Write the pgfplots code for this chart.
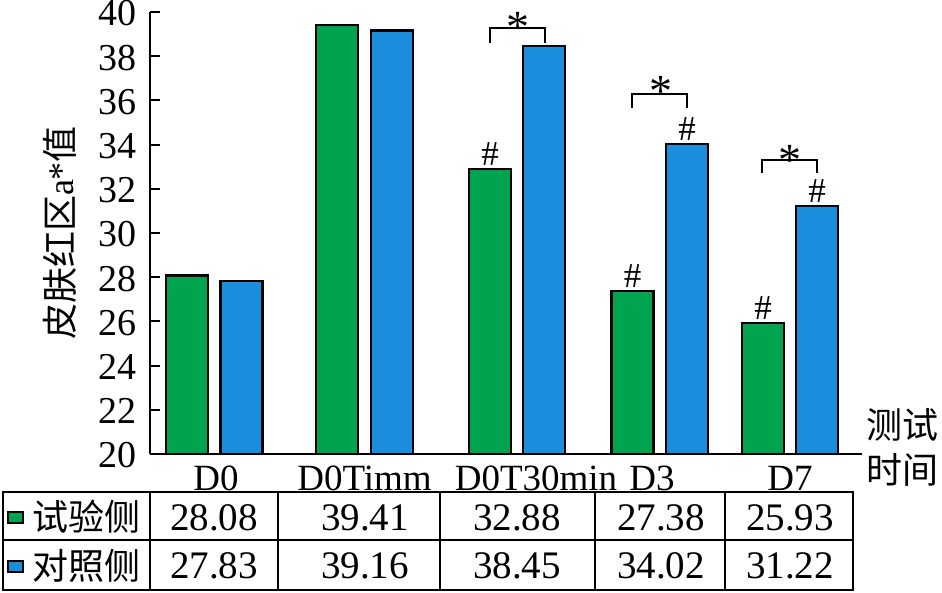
\documentclass[border=0pt]{standalone}
\usepackage{fontspec}
\setmainfont{Liberation Serif}
\newfontfamily\cjk{Noto Sans CJK SC}
\usepackage{pgfplots}
\pgfplotsset{compat=1.18}
\definecolor{cgreen}{RGB}{0,163,78}
\definecolor{cblue}{RGB}{27,141,221}

\begin{document}
\begin{tikzpicture}[x=1pt,y=1pt]
\useasboundingbox (0,0) rectangle (942,592);
\begin{axis}[
  at={(150pt,138pt)}, anchor=south west,
  x=1pt, y=22.1pt,
  xmin=150, xmax=862, ymin=20, ymax=40,
  axis x line*=bottom, axis y line*=left,
  axis line style={line width=2pt},
  ytick={20,22,...,40},
  tick align=inside,
  major tick length=10pt,
  y tick style={line width=2pt,black},
  xtick={216,364.5,536,652,790},
  xticklabels={D0,D0Timm,D0T30min,D3,D7},
  x tick style={draw=none},
  yticklabel style={font=\fontsize{38}{40}\selectfont, inner ysep=0pt, xshift=-10pt, yshift=-1.5pt},
  xticklabel style={font=\fontsize{37}{40}\selectfont, anchor=base, yshift=-26pt},
  /pgf/number format/assume math mode=true,
  ybar, bar width=42,
  clip mode=individual,
]
\addplot[ybar, bar shift=0pt, fill=cgreen, draw=black, line width=2.2pt]
  coordinates {(187,28.08) (337,39.41) (490,32.88) (632.5,27.38) (763,25.93)};
\addplot[ybar, bar shift=0pt, fill=cblue, draw=black, line width=2.2pt]
  coordinates {(241.5,27.83) (392,39.16) (544,38.45) (687,34.02) (817,31.22)};

% significance marks
\begin{scope}[every node/.style={font=\fontsize{35}{38}\selectfont, inner sep=0pt}]
\node[yshift=15pt] at (axis cs:490,32.88) {\#};
\node[yshift=15pt] at (axis cs:632.5,27.38) {\#};
\node[yshift=15pt] at (axis cs:763,25.93) {\#};
\node[yshift=15pt] at (axis cs:687,34.02) {\#};
\node[yshift=15pt] at (axis cs:817,31.22) {\#};
\end{scope}
\draw[line width=2.5pt] (axis cs:490,38.6) -- (axis cs:490,39.28) -- (axis cs:545,39.28) -- (axis cs:545,38.6);
\draw[line width=2.5pt] (axis cs:632,35.66) -- (axis cs:632,36.29) -- (axis cs:687,36.29) -- (axis cs:687,35.66);
\draw[line width=2.5pt] (axis cs:762,32.71) -- (axis cs:762,33.30) -- (axis cs:817,33.30) -- (axis cs:817,32.71);
\begin{scope}[every node/.style={font=\fontsize{46}{46}\selectfont, inner sep=0pt}]
\node[yshift=-9pt] at (axis cs:518,39.73) {*};
\node[yshift=-9pt] at (axis cs:661,36.79) {*};
\node[yshift=-9pt] at (axis cs:790,33.71) {*};
\end{scope}
\end{axis}

% y label and x label
\node[rotate=90, font=\fontsize{36}{40}\selectfont] at (60,359) {{\cjk 皮肤红区}a*{\cjk 值}};
\node[font=\cjk\fontsize{36}{45}\selectfont, align=left] at (902,145) {测试\\时间};

% data table
\draw[line width=2pt] (3,2) rectangle (853,100);
\draw[line width=2pt] (3,52) -- (853,52);
\foreach \xx in {150,278,440,595,725} {\draw[line width=2pt] (\xx,2) -- (\xx,100);}
\draw[fill=cgreen, line width=1.5pt] (8,69) rectangle (23,80);
\draw[fill=cblue, line width=1.5pt] (8,20) rectangle (23,31);
\node[font=\cjk\fontsize{36}{40}\selectfont] at (86,75) {试验侧};
\node[font=\cjk\fontsize{36}{40}\selectfont] at (86,26) {对照侧};
\begin{scope}[every node/.style={font=\fontsize{39}{40}\selectfont}]
\node at (214,74.5) {28.08};
\node at (365,74.5) {39.41};
\node at (517,74.5) {32.88};
\node at (661,74.5) {27.38};
\node at (790,74.5) {25.93};
\node at (214,26) {27.83};
\node at (365,26) {39.16};
\node at (517,26) {38.45};
\node at (661,26) {34.02};
\node at (790,26) {31.22};
\end{scope}
\end{tikzpicture}
\end{document}
